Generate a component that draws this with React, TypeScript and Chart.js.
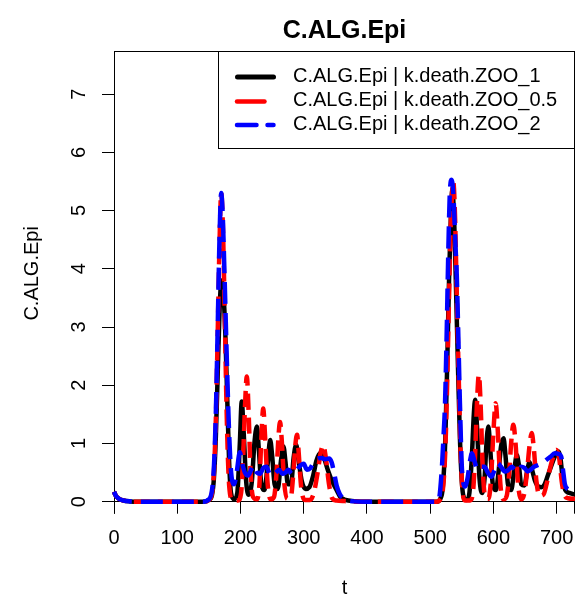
import React, { useEffect, useRef } from 'react';
import { Chart, registerables } from 'chart.js';

Chart.register(...registerables);

const FONT = '"Liberation Sans", Arial, Helvetica, sans-serif';

const TITLE = 'C.ALG.Epi';
const X_TITLE = 't';
const Y_TITLE = 'C.ALG.Epi';
const SERIES_LABELS = [
  'C.ALG.Epi | k.death.ZOO_1',
  'C.ALG.Epi | k.death.ZOO_0.5',
  'C.ALG.Epi | k.death.ZOO_2',
];

const X_MIN = 0;
const X_MAX = 729;
const Y_MIN = 0;
const Y_MAX = 7.74;
const X_STEP = 100;
const Y_STEP = 1;

// k.death.ZOO_1 (black)
const blackT = [
  0, 3, 8, 15, 25, 40, 140, 150, 155, 158, 161, 164, 167, 170, 173, 176, 179, 182, 185, 190,
  195, 199, 202, 205, 209, 213, 218, 222, 226, 229, 233, 238, 243, 247, 250, 254, 259, 264, 268, 271,
  275, 280, 284, 288, 292, 297, 303, 309, 315, 320, 326, 332, 338, 345, 352, 358, 366, 380, 400,
  510, 516, 520, 524, 527, 530, 533, 535, 538, 541, 544, 547, 550, 553, 558, 562, 566, 569, 571,
  574, 578, 582, 586, 589, 592, 595, 599, 604, 608, 612, 616, 619, 623, 628, 633, 637, 640, 644,
  649, 653, 657, 661, 666, 671, 676, 681, 686, 691, 696, 700, 703, 706, 709, 712, 716, 720, 729,
];
const blackV = [
  0.17, 0.1, 0.05, 0.02, 0.005, 0, 0, 0.03, 0.12, 0.4, 1.1, 2.2, 3.3, 3.8, 3.6, 2.9, 1.8, 0.7, 0.15, 0.04,
  0.15, 1.0, 1.72, 1.2, 0.35, 0.12, 0.35, 1.0, 1.29, 0.9, 0.3, 0.2, 0.65, 1.06, 0.8, 0.3, 0.22, 0.7, 0.95, 0.7,
  0.3, 0.3, 0.75, 0.98, 0.7, 0.35, 0.22, 0.25, 0.45, 0.7, 0.83, 0.75, 0.55, 0.35, 0.2, 0.08, 0.03, 0.01, 0,
  0, 0.05, 0.25, 1.1, 2.4, 3.9, 5.0, 5.35, 4.8, 3.6, 2.3, 1.1, 0.35, 0.08, 0.03, 0.15, 0.8, 1.5, 1.75,
  1.3, 0.4, 0.15, 0.4, 1.0, 1.29, 0.9, 0.3, 0.2, 0.5, 0.95, 1.09, 0.8, 0.3, 0.2, 0.55, 0.8, 0.65, 0.3,
  0.28, 0.5, 0.68, 0.55, 0.35, 0.26, 0.25, 0.3, 0.45, 0.6, 0.75, 0.84, 0.86, 0.75, 0.45, 0.25, 0.17, 0.15, 0.12,
];

// k.death.ZOO_0.5 (red)
const redT = [
  0, 3, 8, 15, 25, 40, 140, 150, 155, 158, 161, 164, 167, 169.5, 172, 175, 178, 181, 184, 188,
  196, 201, 204, 207, 210, 213, 216, 220, 226, 230, 233, 236, 239, 243, 248, 253, 257, 260, 262.5, 265,
  269, 274, 280, 284, 287, 289.5, 292, 296, 302, 310, 316, 322, 327, 331, 335, 340, 345, 352, 365, 400,
  510, 516, 520, 524, 527, 530, 533, 536.5, 539, 542, 545, 548, 551, 555, 563, 568, 571, 574, 577, 580,
  583, 587, 592, 596, 600, 603.5, 607, 611, 616, 621, 625, 628, 631.5, 635, 639, 644, 649, 653, 657, 660.5,
  664, 668, 673, 679, 684, 689, 694, 700, 704, 708, 712, 718, 729,
];
const redV = [
  0.17, 0.1, 0.05, 0.02, 0.005, 0, 0, 0.03, 0.15, 0.5, 1.4, 2.9, 4.5, 5.3, 4.8, 3.3, 1.6, 0.5, 0.1, 0.02,
  0.02, 0.15, 0.7, 1.6, 2.15, 1.5, 0.5, 0.08, 0.04, 0.3, 1.1, 1.6, 1.1, 0.3, 0.04, 0.08, 0.5, 1.1, 1.37, 1.1,
  0.35, 0.05, 0.1, 0.55, 1.0, 1.15, 0.85, 0.25, 0.03, 0.03, 0.15, 0.5, 0.85, 0.97, 0.75, 0.3, 0.06, 0.02, 0.01, 0,
  0, 0.04, 0.2, 0.9, 2.1, 3.6, 4.9, 5.5, 5.0, 3.6, 2.2, 0.9, 0.2, 0.02, 0.02, 0.2, 0.8, 1.7, 2.18, 1.6,
  0.6, 0.08, 0.05, 0.35, 1.2, 1.69, 1.2, 0.3, 0.04, 0.1, 0.5, 1.0, 1.32, 1.0, 0.3, 0.04, 0.15, 0.5, 0.95, 1.18,
  0.9, 0.35, 0.1, 0.12, 0.3, 0.55, 0.75, 0.89, 0.75, 0.35, 0.12, 0.06, 0.05,
];

// k.death.ZOO_2 (blue)
const blueT = [
  0, 3, 8, 15, 25, 40, 140, 150, 155, 158, 161, 164, 167, 169.5, 172, 175, 178, 181, 184, 187,
  190, 194, 199, 203, 207, 212, 217, 221, 226, 231, 236, 241, 246, 251, 256, 261, 266, 271, 276, 281,
  287, 293, 300, 305, 310, 316, 322, 328, 334, 340, 344, 348, 352, 357, 364, 375, 400,
  510, 514, 518, 521, 523.5, 526, 528.6, 531.3, 534, 537, 540, 542, 544.5, 547, 549.8, 552, 555, 559,
  563, 566, 570, 575, 580, 586, 591, 597, 602, 607, 612, 618, 623, 629, 634, 639, 644, 649, 654, 659,
  664, 671, 677, 684, 690, 697, 703, 707, 710, 713, 717, 721, 729,
];
const blueV = [
  0.17, 0.1, 0.05, 0.02, 0.005, 0, 0, 0.04, 0.2, 0.6, 1.5, 3.0, 4.6, 5.3, 4.9, 3.8, 2.6, 1.5, 0.7, 0.35,
  0.3, 0.5, 0.85, 0.65, 0.5, 0.45, 0.55, 0.62, 0.5, 0.48, 0.58, 0.6, 0.48, 0.45, 0.5, 0.55, 0.48, 0.5, 0.55, 0.48,
  0.5, 0.6, 0.65, 0.55, 0.57, 0.68, 0.74, 0.75, 0.73, 0.74, 0.68, 0.5, 0.28, 0.13, 0.05, 0.01, 0,
  0, 0.05, 0.5, 1.1, 1.7, 2.84, 4.27, 5.36, 5.53, 5.2, 4.4, 3.9, 2.84, 1.7, 0.66, 0.35, 0.26, 0.4,
  0.7, 0.83, 0.7, 0.55, 0.6, 0.6, 0.5, 0.43, 0.55, 0.66, 0.6, 0.52, 0.54, 0.6, 0.55, 0.52, 0.6, 0.58, 0.52, 0.55,
  0.6, 0.63, 0.66, 0.72, 0.77, 0.83, 0.82, 0.78, 0.55, 0.3, 0.22, 0.2, 0.17,
];

const COLORS = ['#000000', '#ff0000', '#0000ff'];

const toPoints = (ts: number[], vs: number[]) => ts.map((t, i) => ({ x: t, y: vs[i] }));

// R-style frame, titles, rotated y tick labels and boxed legend
const rDecor = {
  id: 'rDecor',
  beforeDatasetsDraw(chart: any) {
    const { ctx, chartArea } = chart;
    const { left, right, top, bottom } = chartArea;
    ctx.save();
    ctx.strokeStyle = '#000';
    ctx.lineWidth = 1;
    ctx.beginPath();
    ctx.moveTo(left + 0.5, bottom);
    ctx.lineTo(left + 0.5, bottom + 12);
    ctx.moveTo(left, top + 0.5);
    ctx.lineTo(right, top + 0.5);
    ctx.moveTo(right - 0.5, top);
    ctx.lineTo(right - 0.5, bottom + 12);
    ctx.stroke();
    ctx.restore();
  },
  afterDraw(chart: any) {
    const { ctx, chartArea, scales } = chart;
    const { left, right, top, bottom } = chartArea;
    const cx = (left + right) / 2;
    ctx.save();
    ctx.fillStyle = '#000';

    // main title
    ctx.font = `bold 25px ${FONT}`;
    ctx.textAlign = 'center';
    ctx.textBaseline = 'alphabetic';
    ctx.fillText(TITLE, cx, 38);

    // x title
    ctx.font = `20px ${FONT}`;
    ctx.fillText(X_TITLE, cx, 594);

    // y tick labels (rotated like R's las=0)
    const yScale = scales.y;
    yScale.ticks.forEach((tk: any) => {
      const py = yScale.getPixelForValue(tk.value);
      ctx.save();
      ctx.translate(85, py);
      ctx.rotate(-Math.PI / 2);
      ctx.textAlign = 'center';
      ctx.fillText(String(tk.value), 0, 0);
      ctx.restore();
    });

    // y title
    ctx.save();
    ctx.translate(37.5, (top + bottom) / 2 - 3);
    ctx.rotate(-Math.PI / 2);
    ctx.textAlign = 'center';
    ctx.fillText(Y_TITLE, 0, 0);
    ctx.restore();

    // legend box
    const bx = 218.5;
    const by = top + 0.5;
    const bw = right - 0.5 - bx;
    const bh = 148.5 - by;
    ctx.fillStyle = '#fff';
    ctx.fillRect(bx, by, bw, bh);
    ctx.strokeStyle = '#000';
    ctx.lineWidth = 1;
    ctx.strokeRect(bx, by, bw, bh);

    const rowsY = [77, 101.5, 125];
    const widths = [5, 4.5, 4.5];
    ctx.lineCap = 'round';
    rowsY.forEach((ry, i) => {
      ctx.strokeStyle = COLORS[i];
      ctx.lineWidth = widths[i];
      ctx.beginPath();
      if (i === 0) {
        ctx.moveTo(237.5, ry);
        ctx.lineTo(273.5, ry);
      } else if (i === 1) {
        ctx.moveTo(237, ry);
        ctx.lineTo(264.5, ry);
      } else {
        ctx.moveTo(237, ry);
        ctx.lineTo(256.5, ry);
        ctx.moveTo(267.5, ry);
        ctx.lineTo(273.5, ry);
      }
      ctx.stroke();
    });

    ctx.fillStyle = '#000';
    ctx.font = `20px ${FONT}`;
    ctx.textAlign = 'left';
    ctx.textBaseline = 'middle';
    rowsY.forEach((ry, i) => {
      ctx.fillText(SERIES_LABELS[i], 293, ry - 1);
    });
    ctx.restore();
  },
};

const App: React.FC = () => {
  const chartRef = useRef<HTMLCanvasElement>(null);
  const chartInstance = useRef<Chart | null>(null);

  useEffect(() => {
    document.body.style.margin = '0';
    if (!chartRef.current) return;
    const ctx = chartRef.current.getContext('2d');
    if (!ctx) return;
    if (chartInstance.current) chartInstance.current.destroy();

    const series = [
      { t: blackT, v: blackV, dash: [] as number[], order: 3 },
      { t: redT, v: redV, dash: [16, 8], order: 2 },
      { t: blueT, v: blueV, dash: [22, 9], order: 1 },
    ];

    chartInstance.current = new Chart(ctx, {
      type: 'line',
      data: {
        datasets: series.map((s, i) => ({
          label: SERIES_LABELS[i],
          data: toPoints(s.t, s.v),
          borderColor: COLORS[i],
          backgroundColor: COLORS[i],
          borderWidth: 4.5,
          borderDash: s.dash,
          borderCapStyle: 'butt' as const,
          borderJoinStyle: 'round' as const,
          pointRadius: 0,
          fill: false,
          cubicInterpolationMode: 'monotone' as const,
          clip: false as any,
          order: s.order,
        })),
      },
      options: {
        responsive: false,
        animation: false,
        events: [],
        layout: { padding: { top: 51, left: 0, right: 0, bottom: 0 } },
        plugins: {
          legend: { display: false },
          title: { display: false },
          tooltip: { enabled: false },
        },
        scales: {
          x: {
            type: 'linear',
            min: X_MIN,
            max: X_MAX,
            afterFit: (scale: any) => {
              scale.height = 96.3;
              scale.paddingLeft = 0;
              scale.paddingRight = 0;
            },
            ticks: {
              stepSize: X_STEP,
              includeBounds: false,
              maxRotation: 0,
              autoSkip: false,
              color: '#000',
              padding: 13,
              font: { family: FONT, size: 20 },
            },
            grid: {
              drawOnChartArea: false,
              drawTicks: true,
              tickLength: 12,
              color: '#000',
              lineWidth: 1,
            },
            border: { display: true, color: '#000', width: 1 },
          },
          y: {
            type: 'linear',
            min: Y_MIN,
            max: Y_MAX,
            afterFit: (scale: any) => {
              scale.width = 114;
              scale.paddingTop = 0;
              scale.paddingBottom = 0;
            },
            ticks: {
              stepSize: Y_STEP,
              includeBounds: false,
              display: false,
            },
            grid: {
              drawOnChartArea: false,
              drawTicks: true,
              tickLength: 12,
              color: '#000',
              lineWidth: 1,
            },
            border: { display: true, color: '#000', width: 1 },
          },
        },
      },
      plugins: [rDecor],
    });

    return () => {
      if (chartInstance.current) {
        chartInstance.current.destroy();
        chartInstance.current = null;
      }
    };
  }, []);

  return (
    <div style={{ width: 575, height: 598, overflow: 'hidden', background: '#fff' }}>
      <canvas ref={chartRef} width={575} height={598} style={{ display: 'block' }} />
    </div>
  );
};

export default App;
